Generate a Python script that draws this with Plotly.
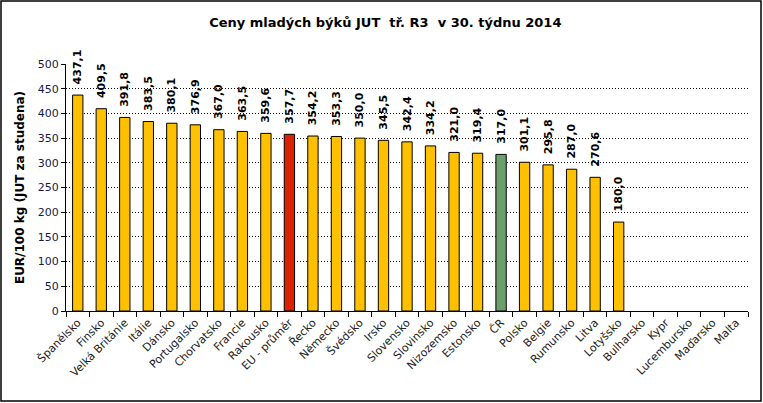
import plotly.graph_objects as go

categories = ["Španělsko", "Finsko", "Velká Británie", "Itálie", "Dánsko", "Portugalsko",
              "Chorvatsko", "Francie", "Rakousko", "EU - průměr", "Řecko", "Německo",
              "Švédsko", "Irsko", "Slovensko", "Slovinsko", "Nizozemsko", "Estonsko", "ČR",
              "Polsko", "Belgie", "Rumunsko", "Litva", "Lotyšsko", "Bulharsko", "Kypr",
              "Lucembursko", "Maďarsko", "Malta"]
values = [437.1, 409.5, 391.8, 383.5, 380.1, 376.9, 367.0, 363.5, 359.6, 357.7, 354.2, 353.3,
          350.0, 345.5, 342.4, 334.2, 321.0, 319.4, 317.0, 301.1, 295.8, 287.0, 270.6, 180.0,
          None, None, None, None, None]

YELLOW = "#FFC000"
RED = "#DD2200"
GREEN = "#6B9F6B"
colors = []
for c in categories:
    if c == "EU - průměr":
        colors.append(RED)
    elif c == "ČR":
        colors.append(GREEN)
    else:
        colors.append(YELLOW)

texts = [("" if v is None else "\u00a0\u00a0" + f"{v:.1f}".replace(".", ",")) for v in values]

FONT = "Verdana, DejaVu Sans, sans-serif"

fig = go.Figure(go.Bar(
    x=categories, y=values, marker=dict(color=colors, line=dict(color="black", width=1)),
    text=texts, textposition="outside", textangle=-90, cliponaxis=False,
    constraintext="none",
    textfont=dict(family=FONT, size=11, color="black", weight="bold"),
))

W, H = 763, 403
L, R, T, B = 66, 15, 64, 92
pw, ph = W - L - R, H - T - B
fig.add_shape(type="rect", xref="paper", yref="paper",
              x0=(1 - L) / pw, x1=(W - 2 - L) / pw,
              y0=-(H - 2 - T - ph) / ph,
              y1=(T - 1) / ph + 1,
              line=dict(color="black", width=1.5), fillcolor="rgba(0,0,0,0)", layer="below")

fig.update_layout(
    width=W, height=H, margin=dict(l=L, r=R, t=T, b=B),
    paper_bgcolor="white", plot_bgcolor="white", bargap=0.56, showlegend=False,
    title=dict(text="Ceny mladých býků JUT\u00a0 tř. R3\u00a0 v 30. týdnu 2014",
               x=0.505, xanchor="center", xref="container", y=1 - 22 / H, yanchor="middle",
               font=dict(family=FONT, size=13, color="black", weight="bold")),
    xaxis=dict(tickangle=-45, tickfont=dict(family=FONT, size=11, color="#222222"),
               showline=True, linecolor="black", linewidth=1, ticks="outside",
               tickson="boundaries", ticklen=5, tickcolor="black", showgrid=False),
    yaxis=dict(range=[0, 500], dtick=50, tickfont=dict(family=FONT, size=11, color="#1a1a4a"),
               showline=True, linecolor="black", linewidth=1, ticks="outside", ticklen=4,
               tickcolor="black", showgrid=True, gridcolor="black", griddash="1px,2px",
               gridwidth=1, zeroline=False,
               title=dict(text="EUR/100 kg (JUT za studena)", standoff=10,
                          font=dict(family=FONT, size=12, color="black", weight="bold"))),
)

fig.write_html("out.html")
